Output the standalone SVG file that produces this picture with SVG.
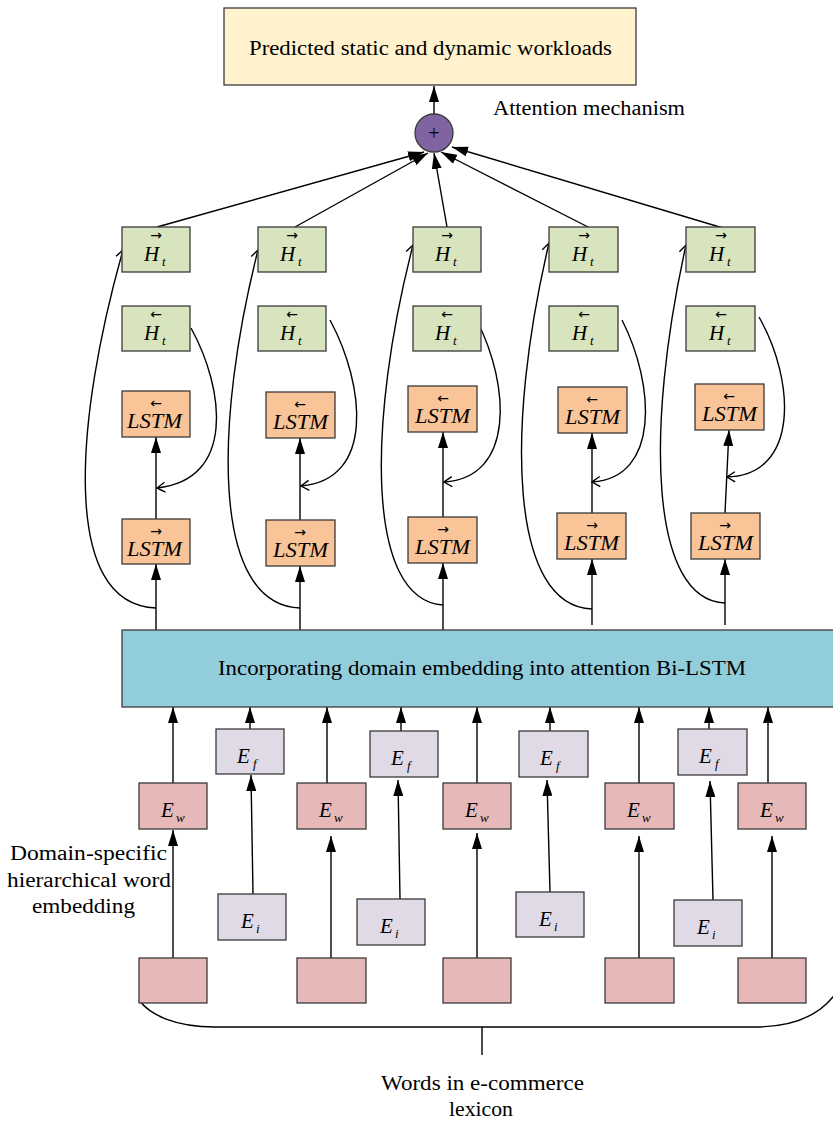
<svg xmlns="http://www.w3.org/2000/svg" width="833" height="1121" viewBox="0 0 833 1121">
<style>
text{font-family:"Liberation Serif","Times New Roman",serif;fill:#000}
.it{font-style:italic}
.bx{stroke:#3a3a3a;stroke-width:1.3}
.y{fill:#fff2cc}.g{fill:#d7e4bd}.o{fill:#f9c498}.b{fill:#92cddc}.p{fill:#e6b9b8}.l{fill:#dfdae6}
.c{fill:none;stroke:#000;stroke-width:1.4}
.fa{marker-end:url(#fa)}.oa{marker-end:url(#oa)}
.ar{font-family:"DejaVu Sans",sans-serif;font-size:14px;text-anchor:middle}
.h{font-size:21px}.sb{font-size:13px}.ls{font-size:20px}.e{font-size:21px}
</style>
<defs>
<marker id="fa" viewBox="0 0 16 10" refX="16" refY="5" markerWidth="16" markerHeight="10" markerUnits="userSpaceOnUse" orient="auto"><path d="M0,0 L16,5 L0,10 z" fill="#000"/></marker>
<marker id="oa" viewBox="0 0 10 12" refX="9" refY="6" markerWidth="10" markerHeight="12" markerUnits="userSpaceOnUse" orient="auto"><path d="M1,1 L9,6 L1,11" fill="none" stroke="#000" stroke-width="1.4"/></marker>
</defs>

<g id="connectors">
<line class="c fa" x1="434" y1="120" x2="434" y2="86"/>
<line class="c fa" x1="157" y1="227" x2="424" y2="152"/>
<line class="c fa" x1="295" y1="227" x2="428" y2="153"/>
<line class="c fa" x1="447" y1="227" x2="434" y2="153"/>
<line class="c fa" x1="590" y1="228" x2="441" y2="152"/>
<line class="c fa" x1="723" y1="228" x2="452" y2="147"/>
<path class="c oa" d="M156,608 C60,605 75,420 123,250"/>
<path class="c oa" d="M300,608 C210,605 215,420 258,250"/>
<path class="c oa" d="M443,605 C365,600 368,420 413,245"/>
<path class="c oa" d="M592,609 C510,606 505,430 549,243"/>
<path class="c oa" d="M725,603 C650,600 645,430 686,245"/>
<path class="c oa" d="M191,328 C225,390 235,480 157,488"/>
<path class="c oa" d="M330,320 C365,385 375,480 301,486"/>
<path class="c oa" d="M477,321 C510,385 515,478 444,482"/>
<path class="c oa" d="M622,320 C655,385 660,478 592,482"/>
<path class="c oa" d="M759,317 C795,380 800,475 727,477"/>
<line class="c fa" x1="156" y1="630" x2="156" y2="564"/>
<line class="c fa" x1="300" y1="630" x2="300" y2="566"/>
<line class="c fa" x1="443" y1="630" x2="443" y2="563"/>
<line class="c fa" x1="592" y1="625" x2="592" y2="559"/>
<line class="c fa" x1="725" y1="625" x2="725" y2="559"/>
<line class="c fa" x1="156" y1="519" x2="156" y2="437"/>
<line class="c fa" x1="300" y1="520" x2="300" y2="438"/>
<line class="c fa" x1="443" y1="517" x2="443" y2="432"/>
<line class="c fa" x1="592" y1="513" x2="592" y2="433"/>
<line class="c fa" x1="725" y1="513" x2="729" y2="430"/>
<line class="c fa" x1="173" y1="783" x2="173" y2="707"/>
<line class="c fa" x1="327" y1="783" x2="327" y2="707"/>
<line class="c fa" x1="477" y1="783" x2="477" y2="707"/>
<line class="c fa" x1="639" y1="783" x2="639" y2="707"/>
<line class="c fa" x1="768" y1="783" x2="768" y2="707"/>
<line class="c fa" x1="250" y1="729" x2="250" y2="707"/>
<line class="c fa" x1="401" y1="731" x2="401" y2="707"/>
<line class="c fa" x1="550" y1="731" x2="550" y2="707"/>
<line class="c fa" x1="709" y1="729" x2="709" y2="707"/>
<line class="c fa" x1="253" y1="894" x2="251" y2="775"/>
<line class="c fa" x1="400" y1="899" x2="398" y2="780"/>
<line class="c fa" x1="550" y1="892" x2="547" y2="780"/>
<line class="c fa" x1="713" y1="900" x2="710" y2="781"/>
<line class="c fa" x1="173" y1="958" x2="173" y2="830"/>
<line class="c fa" x1="331" y1="965" x2="331" y2="836"/>
<line class="c fa" x1="477" y1="965" x2="477" y2="833"/>
<line class="c fa" x1="639" y1="965" x2="639" y2="836"/>
<line class="c fa" x1="772" y1="965" x2="772" y2="836"/>
<path class="c" d="M139,1000 C150,1015 175,1027 215,1027 L755,1027 C795,1027 822,1015 838,990"/>
<line class="c" x1="482" y1="1027" x2="482" y2="1055"/>
</g>

<g id="output"><rect class="bx y" x="224" y="8" width="412" height="77"/>
<text x="249" y="55" font-size="20" textLength="363" lengthAdjust="spacingAndGlyphs">Predicted static and dynamic workloads</text></g>
<g id="attention"><circle cx="434" cy="133" r="19" fill="#8064a2" stroke="#3a3a3a" stroke-width="1.3"/>
<text x="434" y="140" font-size="20" text-anchor="middle" fill="#222">+</text></g>
<text x="493" y="115" font-size="20" textLength="192" lengthAdjust="spacingAndGlyphs">Attention mechanism</text>

<g id="hf1"><rect class="bx g" x="122" y="227" width="68" height="45"/><text class="ar" x="156" y="240">→</text><text class="it h" x="144" y="261">H</text><text class="it sb" x="162" y="266">t</text></g>
<g id="hf2"><rect class="bx g" x="258" y="227" width="68" height="45"/><text class="ar" x="292" y="240">→</text><text class="it h" x="280" y="261">H</text><text class="it sb" x="298" y="266">t</text></g>
<g id="hf3"><rect class="bx g" x="413" y="227" width="68" height="45"/><text class="ar" x="447" y="240">→</text><text class="it h" x="435" y="261">H</text><text class="it sb" x="453" y="266">t</text></g>
<g id="hf4"><rect class="bx g" x="549" y="227" width="69" height="45"/><text class="ar" x="584" y="240">→</text><text class="it h" x="572" y="261">H</text><text class="it sb" x="590" y="266">t</text></g>
<g id="hf5"><rect class="bx g" x="686" y="227" width="69" height="45"/><text class="ar" x="721" y="240">→</text><text class="it h" x="709" y="261">H</text><text class="it sb" x="727" y="266">t</text></g>

<g id="hb1"><rect class="bx g" x="122" y="306" width="68" height="45"/><text class="ar" x="156" y="319">←</text><text class="it h" x="144" y="340">H</text><text class="it sb" x="162" y="345">t</text></g>
<g id="hb2"><rect class="bx g" x="258" y="306" width="68" height="45"/><text class="ar" x="292" y="319">←</text><text class="it h" x="280" y="340">H</text><text class="it sb" x="298" y="345">t</text></g>
<g id="hb3"><rect class="bx g" x="413" y="306" width="68" height="45"/><text class="ar" x="447" y="319">←</text><text class="it h" x="435" y="340">H</text><text class="it sb" x="453" y="345">t</text></g>
<g id="hb4"><rect class="bx g" x="549" y="306" width="69" height="45"/><text class="ar" x="584" y="319">←</text><text class="it h" x="572" y="340">H</text><text class="it sb" x="590" y="345">t</text></g>
<g id="hb5"><rect class="bx g" x="686" y="306" width="69" height="45"/><text class="ar" x="721" y="319">←</text><text class="it h" x="709" y="340">H</text><text class="it sb" x="727" y="345">t</text></g>

<g id="lb1"><rect class="bx o" x="122" y="391" width="68" height="46"/><text class="ar" x="156" y="408">←</text><text class="it ls" x="127" y="428" textLength="55" lengthAdjust="spacingAndGlyphs">LSTM</text></g>
<g id="lb2"><rect class="bx o" x="266" y="392" width="69" height="46"/><text class="ar" x="300" y="409">←</text><text class="it ls" x="273" y="429" textLength="55" lengthAdjust="spacingAndGlyphs">LSTM</text></g>
<g id="lb3"><rect class="bx o" x="408" y="386" width="69" height="46"/><text class="ar" x="443" y="403">←</text><text class="it ls" x="415" y="423" textLength="55" lengthAdjust="spacingAndGlyphs">LSTM</text></g>
<g id="lb4"><rect class="bx o" x="558" y="387" width="69" height="46"/><text class="ar" x="592" y="404">←</text><text class="it ls" x="565" y="424" textLength="55" lengthAdjust="spacingAndGlyphs">LSTM</text></g>
<g id="lb5"><rect class="bx o" x="695" y="384" width="69" height="46"/><text class="ar" x="729" y="401">←</text><text class="it ls" x="702" y="421" textLength="55" lengthAdjust="spacingAndGlyphs">LSTM</text></g>

<g id="lf1"><rect class="bx o" x="122" y="519" width="68" height="45"/><text class="ar" x="156" y="536">→</text><text class="it ls" x="127" y="556" textLength="55" lengthAdjust="spacingAndGlyphs">LSTM</text></g>
<g id="lf2"><rect class="bx o" x="266" y="520" width="69" height="46"/><text class="ar" x="300" y="537">→</text><text class="it ls" x="273" y="557" textLength="55" lengthAdjust="spacingAndGlyphs">LSTM</text></g>
<g id="lf3"><rect class="bx o" x="408" y="517" width="69" height="46"/><text class="ar" x="443" y="534">→</text><text class="it ls" x="415" y="554" textLength="55" lengthAdjust="spacingAndGlyphs">LSTM</text></g>
<g id="lf4"><rect class="bx o" x="557" y="513" width="69" height="46"/><text class="ar" x="592" y="530">→</text><text class="it ls" x="564" y="550" textLength="55" lengthAdjust="spacingAndGlyphs">LSTM</text></g>
<g id="lf5"><rect class="bx o" x="691" y="513" width="69" height="46"/><text class="ar" x="725" y="530">→</text><text class="it ls" x="698" y="550" textLength="55" lengthAdjust="spacingAndGlyphs">LSTM</text></g>

<g id="bilstm"><rect class="bx b" x="122" y="630" width="720" height="77"/>
<text x="218" y="675" font-size="20" textLength="528" lengthAdjust="spacingAndGlyphs">Incorporating domain embedding into attention Bi-LSTM</text></g>

<g id="ew1"><rect class="bx p" x="139" y="783" width="68" height="46"/><text class="it e" x="161" y="817">E</text><text class="it sb" x="176" y="822">w</text></g>
<g id="ew2"><rect class="bx p" x="297" y="783" width="69" height="46"/><text class="it e" x="319" y="817">E</text><text class="it sb" x="334" y="822">w</text></g>
<g id="ew3"><rect class="bx p" x="443" y="783" width="68" height="46"/><text class="it e" x="465" y="817">E</text><text class="it sb" x="480" y="822">w</text></g>
<g id="ew4"><rect class="bx p" x="605" y="783" width="69" height="46"/><text class="it e" x="627" y="817">E</text><text class="it sb" x="642" y="822">w</text></g>
<g id="ew5"><rect class="bx p" x="738" y="783" width="68" height="46"/><text class="it e" x="760" y="817">E</text><text class="it sb" x="775" y="822">w</text></g>

<g id="ef1"><rect class="bx l" x="216" y="729" width="68" height="45"/><text class="it e" x="237" y="763">E</text><text class="it sb" x="253" y="768">f</text></g>
<g id="ef2"><rect class="bx l" x="370" y="731" width="68" height="46"/><text class="it e" x="391" y="765">E</text><text class="it sb" x="407" y="770">f</text></g>
<g id="ef3"><rect class="bx l" x="519" y="731" width="69" height="46"/><text class="it e" x="540" y="765">E</text><text class="it sb" x="556" y="770">f</text></g>
<g id="ef4"><rect class="bx l" x="678" y="729" width="69" height="46"/><text class="it e" x="699" y="763">E</text><text class="it sb" x="715" y="768">f</text></g>

<g id="ei1"><rect class="bx l" x="218" y="894" width="68" height="46"/><text class="it e" x="241" y="928">E</text><text class="it sb" x="256" y="933">i</text></g>
<g id="ei2"><rect class="bx l" x="357" y="899" width="68" height="46"/><text class="it e" x="380" y="933">E</text><text class="it sb" x="395" y="938">i</text></g>
<g id="ei3"><rect class="bx l" x="516" y="892" width="68" height="45"/><text class="it e" x="539" y="926">E</text><text class="it sb" x="554" y="931">i</text></g>
<g id="ei4"><rect class="bx l" x="674" y="900" width="68" height="46"/><text class="it e" x="697" y="934">E</text><text class="it sb" x="712" y="939">i</text></g>

<g id="w1"><rect class="bx p" x="139" y="958" width="68" height="45"/></g>
<g id="w2"><rect class="bx p" x="297" y="958" width="69" height="45"/></g>
<g id="w3"><rect class="bx p" x="443" y="958" width="68" height="45"/></g>
<g id="w4"><rect class="bx p" x="605" y="958" width="69" height="45"/></g>
<g id="w5"><rect class="bx p" x="738" y="958" width="68" height="45"/></g>

<g id="labels">
<text x="10" y="860" font-size="20" textLength="157" lengthAdjust="spacingAndGlyphs">Domain-specific</text>
<text x="7" y="887" font-size="20" textLength="164" lengthAdjust="spacingAndGlyphs">hierarchical word</text>
<text x="32" y="913" font-size="20" textLength="103" lengthAdjust="spacingAndGlyphs">embedding</text>
<text x="381" y="1090" font-size="20" textLength="203" lengthAdjust="spacingAndGlyphs">Words in e-commerce</text>
<text x="449" y="1116" font-size="20" textLength="64" lengthAdjust="spacingAndGlyphs">lexicon</text>
</g>
</svg>
